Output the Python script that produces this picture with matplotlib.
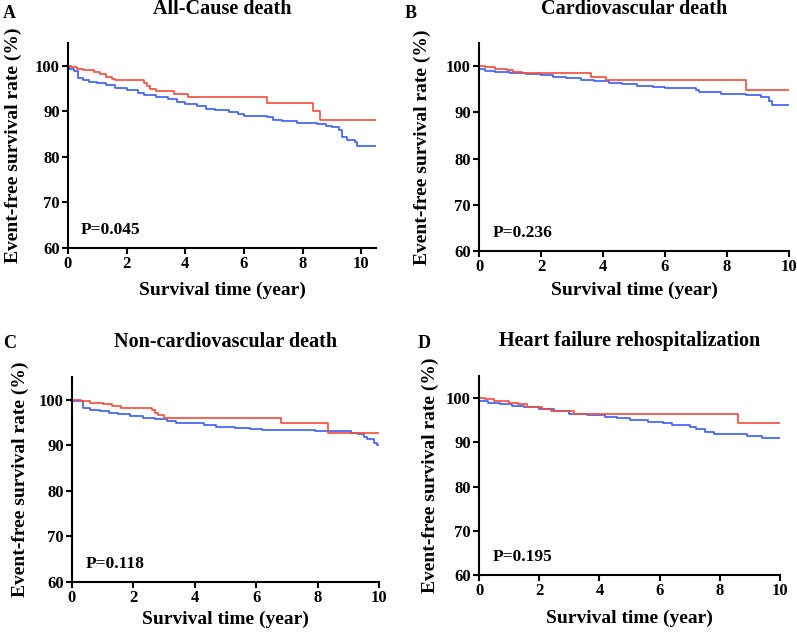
import matplotlib
matplotlib.use("Agg")
import matplotlib.pyplot as plt

plt.rcParams['font.family'] = ['Liberation Serif', 'DejaVu Serif']
plt.rcParams['font.weight'] = 'bold'

# Kaplan-Meier step data (time in years, survival %)
a_red_t = [0, 0.1, 0.3, 0.5, 0.9, 1.1, 1.3, 1.5, 1.6, 2.6, 2.7, 2.8, 3.0, 3.6, 4.1, 6.8, 8.35, 8.6, 10.5]
a_red_s = [100, 99.7, 99.3, 99.0, 98.6, 98.2, 97.6, 97.2, 96.8, 96.2, 95.6, 95.0, 94.4, 93.8, 93.2, 91.9, 90.0, 88.1, 88.1]
a_blue_t = [0, 0.05, 0.2, 0.35, 0.5, 0.7, 1.0, 1.3, 1.6, 2.0, 2.4, 2.6, 3.0, 3.4, 3.7, 4.0, 4.4, 4.7, 5.0,
            5.5, 5.8, 6.0, 6.8, 7.0, 7.3, 7.8, 8.5, 8.8, 9.0, 9.25, 9.35, 9.5, 9.8, 9.85, 10.5]
a_blue_s = [100, 99.3, 98.9, 97.3, 96.8, 96.5, 96.2, 95.8, 95.2, 94.7, 94.1, 93.6, 93.2, 92.6, 92.0, 91.7, 91.2, 90.6, 90.2,
            89.9, 89.4, 88.9, 88.7, 88.2, 87.9, 87.5, 87.2, 86.8, 86.5, 85.8, 84.3, 83.8, 83.2, 82.3, 82.3]

b_red_t = [0, 0.2, 0.5, 0.9, 1.1, 1.4, 3.6, 4.1, 8.6, 10]
b_red_s = [100, 99.7, 99.4, 99.1, 98.8, 98.5, 97.7, 97.0, 94.9, 94.9]
b_blue_t = [0, 0.2, 0.5, 1.0, 1.5, 2.0, 2.4, 2.8, 3.3, 3.7, 4.2, 4.6, 5.1, 5.6, 6.0, 7.0, 7.1, 7.8, 8.6, 9.1, 9.35, 9.45, 10]
b_blue_s = [99.3, 99.0, 98.8, 98.6, 98.3, 98.0, 97.7, 97.4, 97.1, 96.8, 96.4, 96.1, 95.8, 95.5, 95.2, 94.8, 94.3, 94.0,
            93.7, 93.3, 92.4, 91.6, 91.6]

c_red_t = [0, 0.3, 0.6, 1.0, 1.3, 1.6, 2.6, 2.7, 2.8, 3.0, 6.8, 8.35, 10]
c_red_s = [100, 99.7, 99.4, 99.1, 98.7, 98.3, 97.7, 97.1, 96.6, 96.0, 94.8, 92.8, 92.8]
c_blue_t = [0, 0.35, 0.6, 0.9, 1.2, 1.5, 1.9, 2.3, 2.7, 3.1, 3.4, 3.8, 4.3, 4.7, 5.3, 5.8, 6.2, 7.9, 9.1, 9.3,
            9.5, 9.6, 9.85, 9.95, 10]
c_blue_s = [99.7, 98.2, 97.8, 97.5, 97.2, 96.8, 96.4, 96.0, 95.7, 95.4, 95.0, 94.8, 94.5, 94.1, 93.9, 93.6, 93.3, 93.1,
            92.8, 92.4, 91.9, 91.4, 90.6, 90.0, 90.0]

d_red_t = [0, 0.2, 0.5, 1.0, 1.3, 1.6, 2.1, 2.4, 3.15, 8.6, 10]
d_red_s = [100, 99.7, 99.4, 99.0, 98.6, 98.1, 97.6, 97.1, 96.5, 94.3, 94.3]
d_blue_t = [0, 0.3, 0.7, 1.1, 1.5, 2.0, 2.5, 3.0, 3.6, 4.2, 4.6, 5.0, 5.6, 6.1, 6.4, 7.0, 7.2, 7.5, 7.8, 8.9, 9.4, 10]
d_blue_s = [99.3, 99.0, 98.7, 98.3, 97.9, 97.5, 97.0, 96.5, 96.1, 95.8, 95.4, 95.0, 94.7, 94.3, 93.9, 93.5, 93.0,
            92.4, 91.9, 91.5, 91.0, 91.0]

titles = ['All-Cause death', 'Cardiovascular death', 'Non-cardiovascular death', 'Heart failure rehospitalization']
letters = ['A', 'B', 'C', 'D']
p_values = ['P=0.045', 'P=0.236', 'P=0.118', 'P=0.195']
x_max = [10.5, 10, 10, 10]

RED = '#f24b3a'
BLUE = '#3a5cf6'

W, H = 797, 636
fig = plt.figure(figsize=(W / 100, H / 100), dpi=100)

# axes boxes in pixels: left, right, top, bottom
boxes = [(68, 376, 43, 248), (479, 789, 43, 251), (72, 379, 377, 582), (479, 780, 376, 575)]
letter_pos = [(3, 14), (405, 13), (3, 343), (418, 344)]
xlabel_y = [290, 290, 619, 618]
ylabel_x = [13, 422, 20, 430]
title_y = [9, 9, 342, 341]

curves = [(a_red_t, a_red_s, a_blue_t, a_blue_s),
          (b_red_t, b_red_s, b_blue_t, b_blue_s),
          (c_red_t, c_red_s, c_blue_t, c_blue_s),
          (d_red_t, d_red_s, d_blue_t, d_blue_s)]

for i in range(4):
    l, r, t, b = boxes[i]
    ax = fig.add_axes([l / W, 1 - b / H, (r - l) / W, (b - t) / H])
    rt, rs, bt, bs = curves[i]
    ax.plot(bt, bs, drawstyle='steps-post', color=BLUE, lw=1.2)
    ax.plot(rt, rs, drawstyle='steps-post', color=RED, lw=1.2)
    ax.set_xlim(0, x_max[i])
    ax.set_ylim(60, 105)
    ax.set_xticks([0, 2, 4, 6, 8, 10])
    ax.set_yticks([60, 70, 80, 90, 100])
    ax.spines['top'].set_visible(False)
    ax.spines['right'].set_visible(False)
    ax.spines['left'].set_linewidth(1.5)
    ax.spines['bottom'].set_linewidth(1.5)
    ax.tick_params(width=1.5, length=4, labelsize=12, pad=2)
    for lab in ax.get_xticklabels() + ax.get_yticklabels():
        lab.set_fontweight('bold')
    ax.text(0.45, 64, p_values[i], fontsize=12.5, fontweight='bold', va='center', ha='left')

    cx = (l + r) / 2 / W
    fig.text(cx, 1 - title_y[i] / H, titles[i], ha='center', va='center', fontsize=14.5, fontweight='bold')
    fig.text(cx, 1 - xlabel_y[i] / H, 'Survival time (year)', ha='center', va='center', fontsize=14, fontweight='bold')
    fig.text(ylabel_x[i] / W, 1 - (t + b) / 2 / H, 'Event-free survival rate (%)', ha='center', va='center',
             rotation=90, fontsize=14, fontweight='bold')
    lx, ly = letter_pos[i]
    fig.text(lx / W, 1 - ly / H, letters[i], ha='left', va='center', fontsize=13, fontweight='bold')

fig.savefig('out.png', dpi=100)
